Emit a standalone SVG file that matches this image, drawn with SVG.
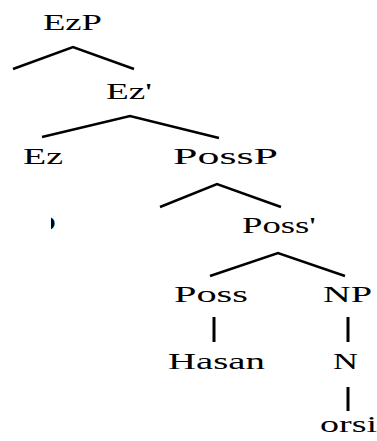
<svg xmlns="http://www.w3.org/2000/svg" width="377" height="441" viewBox="0 0 377 441">
<defs>
<style>
text{font-family:"Liberation Serif","Times New Roman",serif;font-size:23px;fill:#000}
.e{fill:none;stroke:#000;stroke-width:2.5;stroke-linecap:butt}
.v{fill:none;stroke:#000;stroke-width:3}
</style>
<clipPath id="cf"><rect x="51" y="205" width="10" height="35"/></clipPath>
</defs>
<rect width="377" height="441" fill="#fff"/>
<g id="connectors">
<polyline class="e" points="13,69 73,47 134,69"/>
<polyline class="e" points="42,137 130,116 219,138"/>
<polyline class="e" points="160,207 217,184 281,207"/>
<polyline class="e" points="210,276 278,253 345,276"/>
<line class="v" x1="214" y1="317" x2="214" y2="342"/>
<line class="v" x1="348" y1="317" x2="348" y2="342"/>
<line class="v" x1="348" y1="387" x2="348" y2="411"/>
</g>
<g id="n-EzP"><text x="43" y="30" textLength="59" lengthAdjust="spacingAndGlyphs">EzP</text></g>
<g id="n-Ezbar"><text x="106" y="99" textLength="46" lengthAdjust="spacingAndGlyphs">Ez'</text></g>
<g id="n-Ez"><text x="23" y="164" textLength="40" lengthAdjust="spacingAndGlyphs">Ez</text></g>
<g id="n-PossP"><text x="173" y="164" textLength="105" lengthAdjust="spacingAndGlyphs">PossP</text></g>
<g id="n-frag" clip-path="url(#cf)"><text x="29" y="231" textLength="27" lengthAdjust="spacingAndGlyphs">D</text></g>
<g id="n-Possbar"><text x="242" y="233" textLength="74" lengthAdjust="spacingAndGlyphs">Poss'</text></g>
<g id="n-Poss"><text x="174" y="302" textLength="74" lengthAdjust="spacingAndGlyphs">Poss</text></g>
<g id="n-NP"><text x="323" y="302" textLength="49" lengthAdjust="spacingAndGlyphs">NP</text></g>
<g id="n-Hasan"><text x="168" y="369" textLength="97" lengthAdjust="spacingAndGlyphs">Hasan</text></g>
<g id="n-N"><text x="333" y="369" textLength="25" lengthAdjust="spacingAndGlyphs">N</text></g>
<g id="n-orsi"><text x="320" y="432" textLength="57" lengthAdjust="spacingAndGlyphs">orsi</text></g>
</svg>
